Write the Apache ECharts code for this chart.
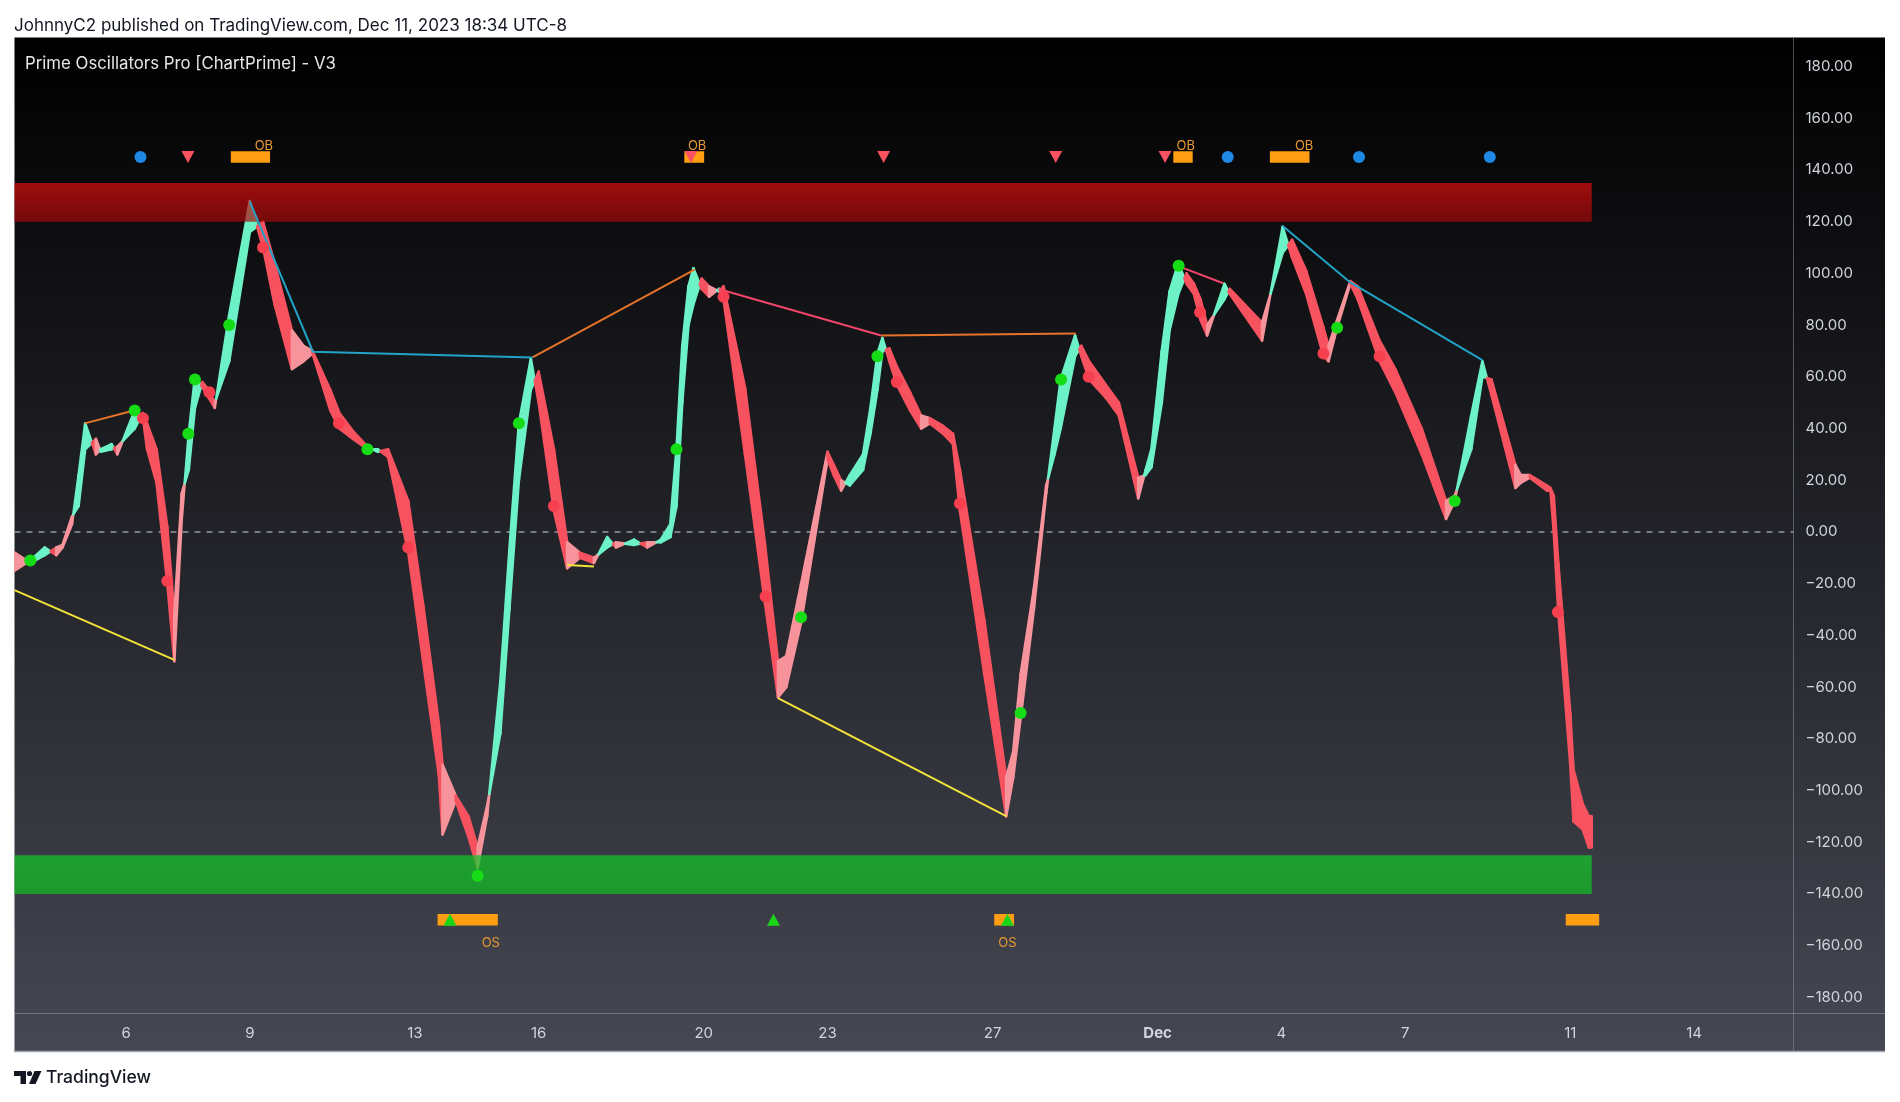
<!DOCTYPE html>
<html><head><meta charset="utf-8">
<script src="https://cdn.jsdelivr.net/npm/echarts@6/dist/echarts.min.js"></script>
<style>html,body{margin:0;padding:0;background:#ffffff;}#c{width:1900px;height:1102px;}</style>
</head><body><div id="c"></div>
<script>
// ---------- data (x = day counted from Nov 1, so Dec 1 = 31) ----------
const tickDays = [6, 9, 13, 16, 20, 23, 27, 31, 34, 37, 41, 44];
const tickLabels = ['6', '9', '13', '16', '20', '23', '27', 'Dec', '4', '7', '11', '14'];
const yTicks = [-180, -160, -140, -120, -100, -80, -60, -40, -20, 0, 20, 40, 60, 80, 100, 120, 140, 160, 180];

const days = [3.30, 3.68, 4.03, 4.31, 4.46, 4.69, 4.85, 5.01, 5.27, 5.39, 5.65, 5.79, 6.21, 6.41, 6.51, 6.74, 7.00, 7.17, 7.35, 7.52,
  7.67, 7.85, 8.00, 8.15, 8.50, 9.00, 9.32, 9.60, 10.02, 10.30, 10.52, 10.95, 11.17, 11.50, 11.85, 12.10, 12.35, 12.84, 13.20, 13.58,
  13.67, 13.99, 14.30, 14.52, 14.75, 15.07, 15.29, 15.52, 15.81, 16.00, 16.37, 16.69, 17.00, 17.34, 17.66, 17.87, 18.31, 18.63, 18.96, 19.19,
  19.34, 19.48, 19.63, 19.75, 19.95, 20.13, 20.37, 20.48, 21.00, 21.48, 21.80, 22.00, 22.36, 23.00, 23.15, 23.33, 23.54, 23.86, 24.04, 24.21,
  24.33, 24.50, 24.68, 25.00, 25.27, 25.48, 25.80, 26.04, 26.21, 26.80, 27.33, 27.50, 27.68, 28.00, 28.30, 28.50, 28.65, 29.00, 29.15, 29.34,
  29.74, 30.06, 30.53, 30.71, 30.85, 31.10, 31.29, 31.50, 31.70, 31.88, 32.04, 32.20, 32.62, 32.75, 33.53, 34.03, 34.26, 34.60, 35.02, 35.14,
  35.35, 35.67, 35.85, 36.38, 36.76, 37.40, 37.99, 38.20, 38.60, 38.87, 39.09, 39.67, 39.80, 40.02, 40.43, 40.52, 40.60, 40.71, 41.00, 41.08,
  41.30, 41.45, 41.52];
const osc = [-15, -11, -6, -9, -6, 3, 22, 42, 30, 32, 34, 30, 47, 44, 32, 19, -20, -50, 5, 38,
  60, 56, 52, 48, 84, 128, 110, 88, 63, 66, 69, 47, 40, 36, 32, 32, 29, -8, -50, -94,
  -117, -104, -118, -130, -110, -58, -7, 42, 67, 50, 8, -14, -10, -12, -2, -6, -3, -6, -3, 3,
  32, 72, 95, 102, 94, 91, 94, 90, 30, -27, -64, -60, -35, 28, 22, 16, 22, 30, 48, 69,
  75, 66, 57, 47, 40, 42, 38, 34, 8, -55, -110, -95, -72, -30, 15, 40, 59, 76, 68, 59,
  52, 45, 13, 24, 32, 70, 93, 104, 96, 92, 82, 76, 96, 92, 74, 118, 106, 92, 68, 66,
  79, 96, 90, 66, 54, 30, 5, 12, 45, 66, 53, 17, 19, 21, 16, 16, 0, -31, -90, -112,
  -115, -122, -122];
const sig = [-8, -12, -9, -6, -5, 6, 10, 32, 36, 31, 32, 33, 40, 46, 42, 32, 2, -32, 15, 24,
  48, 58, 55, 50, 66, 116, 120, 104, 78, 72, 70, 55, 46, 39, 33, 31, 32, 12, -28, -74,
  -90, -102, -110, -122, -106, -78, -30, 20, 55, 62, 32, -4, -8, -10, -6, -4, -5, -4, -4, -2,
  10, 50, 80, 88, 98, 95, 93, 95, 56, -4, -50, -48, -20, 31, 26, 20, 18, 24, 38, 55,
  70, 71, 64, 54, 45, 44, 41, 38, 24, -34, -95, -85, -55, -22, 18, 30, 40, 68, 72, 66,
  57, 50, 21, 22, 25, 50, 78, 92, 100, 96, 90, 80, 90, 94, 81, 108, 113, 101, 79, 72,
  82, 97, 95, 74, 63, 40, 12, 14, 32, 60, 59, 26, 22, 22, 18, 17, 14, -12, -70, -92,
  -105, -110, -110];

const buyDotX = [3.68, 6.21, 7.51, 7.67, 8.50, 11.85, 14.52, 15.52, 19.34, 22.36, 24.21, 27.68, 28.66, 31.51, 35.35, 38.20];
const buyDotY = [-11, 47, 38, 59, 80, 32, -133, 42, 32, -33, 68, -70, 59, 103, 79, 12];
const sellDotX = [6.41, 7.00, 8.02, 9.32, 11.16, 12.84, 16.37, 20.48, 21.50, 24.68, 26.21, 29.33, 32.03, 35.02, 36.38, 40.70];
const sellDotY = [44, -19, 54, 110, 42, -6, 10, 91, -25, 58, 11, 60, 85, 69, 68, -31];

// divergence lines
const yellowLines = [[[3.297, -22.5], [7.17, -49.5]], [[16.69, -12.8], [17.34, -13.4]], [[21.80, -64.3], [27.34, -110]]];
const orangeLines = [[[5.00, 42], [6.19, 47]], [[15.85, 67.5], [19.78, 101.5]], [[24.30, 76], [29.02, 76.8]]];
const pinkLines = [[[20.36, 94], [24.30, 76]], [[31.50, 102.8], [32.59, 96.2]]];
const cyanLines = [[[9.00, 127.8], [10.53, 69.7], [15.85, 67.5]], [[34.03, 118.3], [35.67, 96.5], [38.87, 66.5]]];

// zones
const zoneOB = [120, 135];
const zoneOS = [-140, -125];

// marker rows
const OB_ROW = 145, OS_ROW = -150, OB_TEXT = 149.4, OS_TEXT = -159;
const blueDotX = [6.35, 32.70, 35.88, 39.05];
const redTriX = [7.50, 19.69, 24.36, 28.53, 31.18];
const obStart = [8.54, 19.53, 31.38, 33.72];
const obEnd = [9.49, 20.01, 31.85, 34.68];
const obLabelX = [9.34, 19.84, 31.68, 34.55];
const osStart = [13.55, 27.04, 40.89];
const osEnd = [15.01, 27.52, 41.70];
const osLabelX = [14.84, 27.36];
const greenTriX = [13.85, 21.69, 27.36];

// ---------- chart ----------
const X_MIN = 3.297, X_MAX = 46.41, Y_MIN = -186.05, Y_MAX = 191.2;
const FONT = 'Inter, "Noto Sans", Roboto, sans-serif';
const AQUA = '#6cf2c6', RED = '#f7525f', PINK = '#f6939b';
const LAST_DAY = days[days.length - 1];

const chart = echarts.init(document.getElementById('c'), null, { renderer: 'canvas' });

function lineSeries(segs, color) {
  return segs.map(s => ({
    type: 'line', data: s, symbol: 'none', z: 6, silent: true, animation: false,
    lineStyle: { color: color, width: 2 }
  }));
}

const bandData = days.map((d, i) => [d, osc[i], sig[i]]);

const series = [
  { // zero line
    type: 'line', data: [[X_MIN, 0], [X_MAX, 0]], symbol: 'none', z: 1, silent: true, animation: false,
    lineStyle: { color: 'rgba(178,181,190,0.8)', width: 1.5, type: [6, 6] }
  },
  { // oscillator band
    type: 'custom', z: 2, clip: true, animation: false, silent: true,
    data: bandData, encode: { x: 0, y: [1, 2] },
    renderItem(params, api) {
      const i = params.dataIndex;
      if (i >= days.length - 1) return null;
      const x0 = days[i], x1 = days[i + 1];
      const a0 = osc[i], a1 = osc[i + 1], b0 = sig[i], b1 = sig[i + 1];
      const d0 = a0 - b0, d1 = a1 - b1;
      const rising = a1 > a0;
      const col = d => d > 0 ? AQUA : (rising ? PINK : RED);
      const poly = (pts, c) => ({
        type: 'polygon', shape: { points: pts.map(p => api.coord(p)) },
        style: { fill: c, stroke: c, lineWidth: 2.6, lineJoin: 'round' }
      });
      const ch = [];
      if (d0 * d1 < 0) {
        const t = d0 / (d0 - d1);
        const xm = x0 + t * (x1 - x0), ym = a0 + t * (a1 - a0);
        ch.push(poly([[x0, a0], [xm, ym], [x0, b0]], col(d0)));
        ch.push(poly([[xm, ym], [x1, a1], [x1, b1]], col(d1)));
      } else {
        ch.push(poly([[x0, a0], [x1, a1], [x1, b1], [x0, b0]], col(d0 + d1)));
      }
      return { type: 'group', children: ch };
    }
  },
  { // OB / OS zones
    type: 'custom', z: 4, clip: true, animation: false, silent: true,
    data: [[X_MIN, LAST_DAY, zoneOB[0], zoneOB[1]], [X_MIN, LAST_DAY, zoneOS[0], zoneOS[1]]],
    encode: { x: [0, 1], y: [2, 3] },
    renderItem(params, api) {
      const p0 = api.coord([api.value(0), api.value(3)]);
      const p1 = api.coord([api.value(1), api.value(2)]);
      const ob = params.dataIndex === 0;
      const fill = ob
        ? new echarts.graphic.LinearGradient(0, 0, 0, 1, [{ offset: 0, color: 'rgba(228,14,14,0.68)' }, { offset: 1, color: 'rgba(168,8,8,0.68)' }])
        : new echarts.graphic.LinearGradient(0, 0, 0, 1, [{ offset: 0, color: 'rgba(22,196,42,0.74)' }, { offset: 1, color: 'rgba(18,186,36,0.74)' }]);
      return { type: 'rect', shape: { x: p0[0], y: p0[1], width: p1[0] - p0[0], height: p1[1] - p0[1] }, style: { fill } };
    }
  },
  ...lineSeries(yellowLines, '#f3e23a'),
  ...lineSeries(orangeLines, '#e5732a'),
  ...lineSeries(pinkLines, '#f2456a'),
  ...lineSeries(cyanLines, '#22a2c6'),
  { // OB / OS rectangles
    type: 'custom', z: 7, clip: true, animation: false, silent: true,
    data: obStart.map((s, i) => [s, obEnd[i], OB_ROW]).concat(osStart.map((s, i) => [s, osEnd[i], OS_ROW])),
    encode: { x: [0, 1], y: 2 },
    renderItem(params, api) {
      const p0 = api.coord([api.value(0), api.value(2)]);
      const p1 = api.coord([api.value(1), api.value(2)]);
      return { type: 'rect', shape: { x: p0[0], y: p0[1] - 5.8, width: p1[0] - p0[0], height: 11.6 }, style: { fill: '#ff9e12' } };
    }
  },
  { // OB / OS text
    type: 'custom', z: 8, clip: true, animation: false, silent: true,
    data: obLabelX.map(x => [x, OB_TEXT, 'OB']).concat(osLabelX.map(x => [x, OS_TEXT, 'OS'])),
    encode: { x: 0, y: 1 },
    renderItem(params, api) {
      const p = api.coord([api.value(0), api.value(1)]);
      return { type: 'text', x: p[0], y: p[1], style: { text: api.value(2), fill: '#e99a35', font: '13px ' + FONT, align: 'center', verticalAlign: 'middle' } };
    }
  },
  {
    type: 'scatter', z: 9, animation: false, silent: true, symbol: 'circle', symbolSize: 12,
    data: blueDotX.map(x => [x, OB_ROW]), itemStyle: { color: '#1e88e5', opacity: 1 }
  },
  {
    type: 'scatter', z: 9, animation: false, silent: true, symbol: 'triangle', symbolSize: [13, 12], symbolRotate: 180,
    data: redTriX.map(x => [x, OB_ROW]), itemStyle: { color: '#f7525f', opacity: 1 }
  },
  {
    type: 'scatter', z: 9, animation: false, silent: true, symbol: 'triangle', symbolSize: [13, 12],
    data: greenTriX.map(x => [x, OS_ROW]), itemStyle: { color: '#19d619', opacity: 1 }
  },
  {
    type: 'scatter', z: 9, animation: false, silent: true, symbol: 'circle', symbolSize: 12,
    data: buyDotX.map((x, i) => [x, buyDotY[i]]), itemStyle: { color: '#16dc16', opacity: 1 }
  },
  {
    type: 'scatter', z: 9, animation: false, silent: true, symbol: 'circle', symbolSize: 12,
    data: sellDotX.map((x, i) => [x, sellDotY[i]]), itemStyle: { color: '#f7404f', opacity: 1 }
  }
];

const option = {
  animation: false,
  backgroundColor: '#ffffff',
  textStyle: { fontFamily: FONT },
  title: [
    { text: 'JohnnyC2 published on TradingView.com, Dec 11, 2023 18:34 UTC-8', left: 14, top: 17, padding: 0,
      textStyle: { color: '#131722', fontSize: 17, fontWeight: 'normal', fontFamily: FONT } },
    { text: 'Prime Oscillators Pro [ChartPrime] - V3', left: 25, top: 55, padding: 0,
      textStyle: { color: '#e6e7ea', fontSize: 16.8, fontWeight: 'normal', fontFamily: FONT } },
    { text: 'TradingView', left: 46, top: 1069, padding: 0,
      textStyle: { color: '#131722', fontSize: 17.5, fontWeight: 500, fontFamily: FONT } }
  ],
  graphic: [
    { type: 'rect', z: -10, silent: true, shape: { x: 14.5, y: 37.6, width: 1870.5, height: 1014.4 },
      style: { fill: new echarts.graphic.LinearGradient(0, 0, 0, 1, [{ offset: 0, color: '#000000' }, { offset: 1, color: '#454752' }]) } },
    { type: 'line', z: -9, silent: true, shape: { x1: 1793.5, y1: 37.6, x2: 1793.5, y2: 1052 }, style: { stroke: 'rgba(140,143,154,0.55)', lineWidth: 1 } },
    { type: 'line', z: -9, silent: true, shape: { x1: 14.5, y1: 1013.5, x2: 1885, y2: 1013.5 }, style: { stroke: 'rgba(150,153,165,0.6)', lineWidth: 1 } },
    { type: 'line', z: -9, silent: true, shape: { x1: 14.5, y1: 1051.5, x2: 1885, y2: 1051.5 }, style: { stroke: '#a3a6b0', lineWidth: 1.5 } },
    // TradingView logo
    { type: 'group', silent: true, children: [
      { type: 'rect', shape: { x: 14, y: 1071, width: 12, height: 5 }, style: { fill: '#131722' } },
      { type: 'rect', shape: { x: 20.5, y: 1071, width: 5.5, height: 13 }, style: { fill: '#131722' } },
      { type: 'circle', shape: { cx: 29.5, cy: 1073.5, r: 2.6 }, style: { fill: '#131722' } },
      { type: 'polygon', shape: { points: [[34.5, 1071], [41.5, 1071], [35.5, 1084], [29, 1084]] }, style: { fill: '#131722' } }
    ] }
  ],
  grid: { left: 14.5, right: 106.5, top: 37.6, bottom: 89, containLabel: false },
  xAxis: {
    type: 'value', min: X_MIN, max: X_MAX,
    axisLine: { show: false }, axisTick: { show: false }, splitLine: { show: false },
    axisLabel: {
      customValues: tickDays, margin: 13, color: '#d1d4dc', fontSize: 15, fontFamily: FONT,
      formatter: v => { const t = tickLabels[tickDays.indexOf(Math.round(v))]; return t === 'Dec' ? '{b|Dec}' : t; },
      rich: { b: { fontWeight: 'bold', color: '#d1d4dc', fontSize: 15, fontFamily: FONT } }
    }
  },
  yAxis: {
    type: 'value', position: 'right', min: Y_MIN, max: Y_MAX,
    axisLine: { show: false }, axisTick: { show: false }, splitLine: { show: false },
    axisLabel: {
      customValues: yTicks, margin: 12, align: 'left', color: '#d1d4dc', fontSize: 15, fontFamily: FONT,
      formatter: v => (v < 0 ? '\u2212' : '') + Math.abs(v).toFixed(2)
    }
  },
  series: series
};
chart.setOption(option);
</script></body></html>
